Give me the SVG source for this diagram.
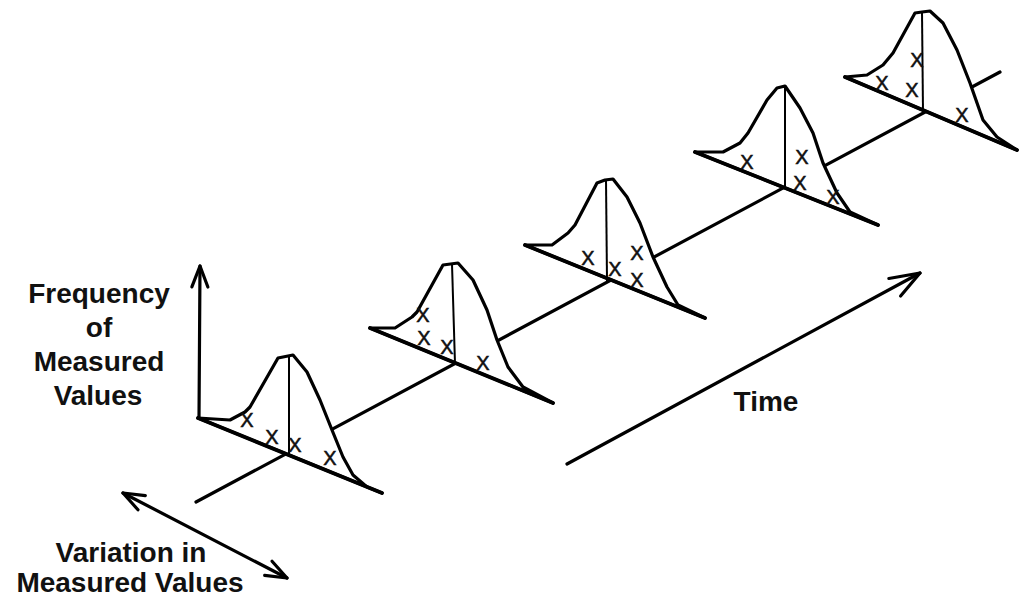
<svg xmlns="http://www.w3.org/2000/svg" width="1020" height="599" viewBox="0 0 1020 599">
<style>
.bg{fill:#fff}
.ln{fill:none;stroke:#000;stroke-width:3.2;stroke-linecap:round;stroke-linejoin:round}
.curve{fill:#fff;stroke:#000;stroke-width:3.2;stroke-linejoin:round;stroke-linecap:round}
.base{fill:none;stroke:#000;stroke-width:3.8;stroke-linecap:round}
.mid{fill:none;stroke:#000;stroke-width:2}
.x{font-family:"Liberation Sans",Arial,sans-serif;font-size:20px;fill:#111;stroke:#111;stroke-width:0.5;text-anchor:middle}
.lbl{font-family:"Liberation Sans",Arial,sans-serif;font-size:28px;font-weight:bold;fill:#111;text-anchor:middle}
</style>
<defs>
<marker id="ah" markerUnits="userSpaceOnUse" markerWidth="30" markerHeight="24" viewBox="-26 -12 30 24" refX="0" refY="0" orient="auto-start-reverse">
<path d="M-21,-8 L0,0 L-21,8" fill="none" stroke="#000" stroke-width="3.2" stroke-linecap="round" stroke-linejoin="round"/>
</marker>
<marker id="ahL" markerUnits="userSpaceOnUse" markerWidth="38" markerHeight="30" viewBox="-34 -15 38 30" refX="0" refY="0" orient="auto">
<path d="M-30,-10 L0,0 L-28,11" fill="none" stroke="#000" stroke-width="3.2" stroke-linecap="round" stroke-linejoin="round"/>
</marker>
</defs>
<rect class="bg" x="0" y="0" width="1020" height="599"/>

<g id="connectors">
<line id="time-axis" class="ln" x1="196" y1="502" x2="1000" y2="72"/>
<line id="freq-arrow" class="ln" x1="199" y1="418" x2="200" y2="266" marker-end="url(#ah)"/>
<line id="variation-arrow" class="ln" x1="123" y1="493" x2="287" y2="578" marker-start="url(#ah)" marker-end="url(#ah)"/>
<line id="time-arrow" class="ln" x1="567" y1="464" x2="920" y2="273" marker-end="url(#ahL)"/>
</g>

<g id="node-1">
<polygon class="curve" points="198,418 230,420 245,412 250,407 278,358 293,355 307,372 320,400 332,430 343,457 353,475 367,487 382,493"/>
<line class="base" x1="198" y1="418" x2="382" y2="493"/>
<line class="mid" x1="289" y1="454" x2="289" y2="355"/>
<text class="x" x="247" y="427">X</text>
<text class="x" x="272" y="444">X</text>
<text class="x" x="295" y="452">X</text>
<text class="x" x="330" y="465">X</text>
</g>

<g id="node-2">
<polygon class="curve" points="370,328 395,328 412,317 417,312 443,265 458,263 473,280 487,310 497,340 508,367 523,387 553,403"/>
<line class="base" x1="370" y1="328" x2="553" y2="403"/>
<line class="mid" x1="455" y1="364" x2="452" y2="264"/>
<text class="x" x="423" y="322">X</text>
<text class="x" x="424" y="345">X</text>
<text class="x" x="447" y="354">X</text>
<text class="x" x="483" y="370">X</text>
</g>

<g id="node-3">
<polygon class="curve" points="525,245 552,245 568,233 575,225 597,183 605,180 613,179 627,197 640,223 653,257 667,287 678,305 705,318"/>
<line class="base" x1="525" y1="245" x2="705" y2="318"/>
<line class="mid" x1="607" y1="281" x2="606" y2="180"/>
<text class="x" x="588" y="265">X</text>
<text class="x" x="615" y="276">X</text>
<text class="x" x="637" y="260">X</text>
<text class="x" x="637" y="287">X</text>
</g>

<g id="node-4">
<polygon class="curve" points="695,152 723,152 740,143 748,133 767,100 777,88 785,86 800,108 813,133 823,163 837,193 850,212 878,225"/>
<line class="base" x1="695" y1="152" x2="878" y2="225"/>
<line class="mid" x1="785" y1="187" x2="785" y2="86"/>
<text class="x" x="747" y="169">X</text>
<text class="x" x="802" y="164">X</text>
<text class="x" x="800" y="190">X</text>
<text class="x" x="833" y="204">X</text>
</g>

<g id="node-5">
<polygon class="curve" points="845,77 867,75 883,65 893,53 915,13 922,12 930,11 943,23 957,50 970,83 983,120 997,137 1017,150"/>
<line class="base" x1="845" y1="77" x2="1017" y2="150"/>
<line class="mid" x1="923" y1="112" x2="922" y2="12"/>
<text class="x" x="882" y="90">X</text>
<text class="x" x="917" y="67">X</text>
<text class="x" x="912" y="97">X</text>
<text class="x" x="962" y="122">X</text>
</g>

<g id="freq-label">
<text class="lbl" x="99" y="303">Frequency</text>
<text class="lbl" x="99" y="337">of</text>
<text class="lbl" x="99" y="371">Measured</text>
<text class="lbl" x="98" y="405">Values</text>
</g>

<g id="time-label">
<text class="lbl" x="766" y="411">Time</text>
</g>

<g id="variation-label">
<text class="lbl" x="131" y="562">Variation in</text>
<text class="lbl" x="130" y="592">Measured Values</text>
</g>
</svg>
